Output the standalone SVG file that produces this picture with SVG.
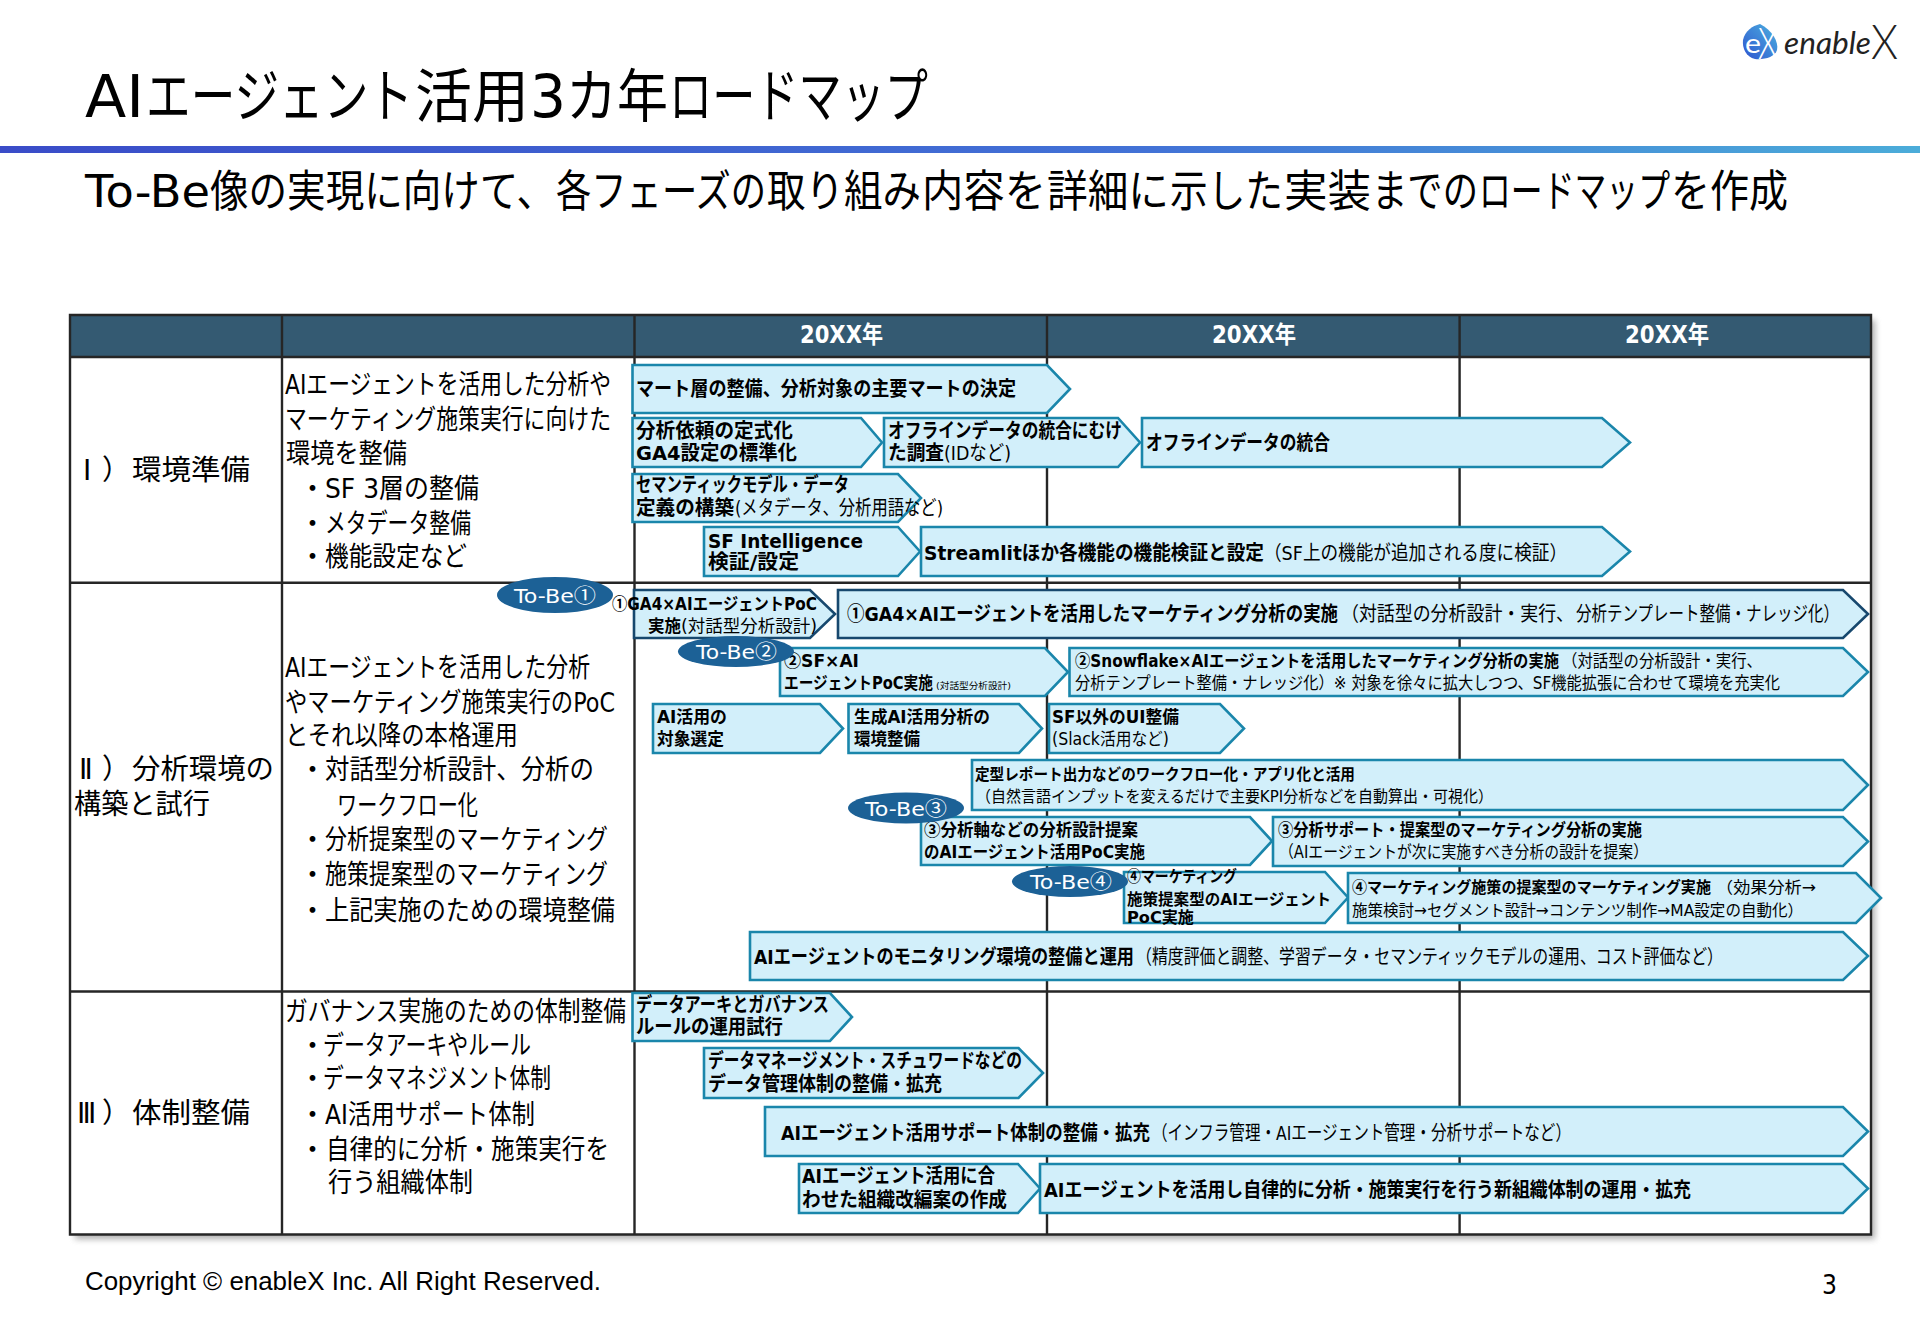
<svg xmlns="http://www.w3.org/2000/svg" width="1920" height="1329" viewBox="0 0 1920 1329">
<style>
text{font-family:"DejaVu Sans","Noto Sans CJK JP",sans-serif;fill:#000}
.b{font-weight:700}
.c{font-family:"Noto Sans CJK JP",sans-serif}
.s15{font-size:15px}.s16{font-size:16px}.s17{font-size:17px}.s18{font-size:18px}.s20{font-size:20px}.s27{font-size:27px}.s28{font-size:28px}
.ar{fill:#d2effa;stroke:#1a86ab;stroke-width:2.6;stroke-linejoin:miter}
.dk{fill:#d2effa;stroke:#17486e;stroke-width:2.6}
.ov{fill:#1c6196}
.tb{fill:#fff;font-size:20px}
.hd{fill:#fff;font-size:24px;font-weight:700}
.ln{stroke:#262626;stroke-width:2.4;fill:none}
.t1{font-size:58px}.t2{font-size:44px}
</style>
<defs>
<linearGradient id="bar" x1="0" x2="1" y1="0" y2="0"><stop offset="0" stop-color="#3a4cc8"/><stop offset=".6" stop-color="#4272d6"/><stop offset="1" stop-color="#4bacd9"/></linearGradient>
<linearGradient id="logo" x1="0" x2="1" y1="1" y2="0"><stop offset="0" stop-color="#2f55cf"/><stop offset="1" stop-color="#4bb2e0"/></linearGradient>
<filter id="sh" x="-3%" y="-3%" width="106%" height="106%"><feGaussianBlur stdDeviation="3"/></filter>
</defs>
<rect width="1920" height="1329" fill="#fff"/>

<g id="title">
<text class="t1" x="85" y="117" textLength="59" lengthAdjust="spacingAndGlyphs">AI</text>
<text class="t1" x="146" y="117" textLength="267" lengthAdjust="spacingAndGlyphs">エージェント</text>
<text class="t1" x="415" y="117" textLength="114" lengthAdjust="spacingAndGlyphs">活用</text>
<text class="t1" x="530" y="117" textLength="36" lengthAdjust="spacingAndGlyphs">3</text>
<text class="t1" x="566" y="117" textLength="102" lengthAdjust="spacingAndGlyphs">カ年</text>
<text class="t1" x="669" y="117" textLength="259" lengthAdjust="spacingAndGlyphs">ロードマップ</text>
<rect x="0" y="146" width="1920" height="7" fill="url(#bar)"/>
<text class="t2" x="85" y="207" textLength="125" lengthAdjust="spacingAndGlyphs">To-Be</text>
<text class="t2" x="210" y="207" textLength="345" lengthAdjust="spacingAndGlyphs">像の実現に向けて、</text>
<text class="t2" x="556" y="207" textLength="210" lengthAdjust="spacingAndGlyphs">各フェーズの</text>
<text class="t2" x="767" y="207" textLength="154" lengthAdjust="spacingAndGlyphs">取り組み</text>
<text class="t2" x="922" y="207" textLength="124" lengthAdjust="spacingAndGlyphs">内容を</text>
<text class="t2" x="1047" y="207" textLength="122" lengthAdjust="spacingAndGlyphs">詳細に</text>
<text class="t2" x="1170" y="207" textLength="113" lengthAdjust="spacingAndGlyphs">示した</text>
<text class="t2" x="1284" y="207" textLength="87" lengthAdjust="spacingAndGlyphs">実装</text>
<text class="t2" x="1372" y="207" textLength="106" lengthAdjust="spacingAndGlyphs">までの</text>
<text class="t2" x="1479" y="207" textLength="191" lengthAdjust="spacingAndGlyphs">ロードマップ</text>
<text class="t2" x="1671" y="207" textLength="117" lengthAdjust="spacingAndGlyphs">を作成</text>
</g>

<g id="logo-mark">
<path d="M1760 24C1772 30 1779 42 1777 50C1775 57 1764 60 1755 59C1746 57 1742 48 1743 40C1745 31 1752 26 1760 24Z" fill="url(#logo)"/>
<text x="1745" y="53" font-size="27" style="font-family:'Lato',sans-serif;fill:#fff" textLength="16" lengthAdjust="spacingAndGlyphs">e</text>
<text x="1758" y="59" font-size="44" style="font-family:'Lato',sans-serif;fill:#fff;font-weight:300" textLength="20" lengthAdjust="spacingAndGlyphs">X</text>
<text x="1784" y="54" font-size="31" style="font-family:'Lato',sans-serif;fill:#222;font-style:italic" textLength="87" lengthAdjust="spacingAndGlyphs">enable</text>
<text x="1871" y="59" font-size="48" style="font-family:'Lato',sans-serif;fill:#222;font-weight:300" textLength="27" lengthAdjust="spacingAndGlyphs">X</text>
</g>

<g id="table">
<rect x="75" y="320" width="1800" height="919" fill="#777" opacity=".6" filter="url(#sh)"/>
<rect x="70" y="315" width="1801" height="919.5" fill="#fff"/>
<rect x="70" y="315" width="1801" height="42" fill="#345a72"/>
<path class="ln" d="M70 315H1871V1234.5H70ZM70 357H1871M70 582.7H1871M70 991.5H1871M282 315V1234.5M634.5 315V1234.5M1047 315V1234.5M1459.6 315V1234.5"/>
<text class="hd" x="800" y="343" textLength="83" lengthAdjust="spacingAndGlyphs">20XX年</text>
<text class="hd" x="1212" y="343" textLength="84" lengthAdjust="spacingAndGlyphs">20XX年</text>
<text class="hd" x="1625" y="343" textLength="84" lengthAdjust="spacingAndGlyphs">20XX年</text>
</g>

<g id="row1-labels">
<text class="s28" x="83" y="480">Ⅰ</text><text class="s28" x="102" y="480">）</text>
<text class="s28" x="132" y="480" textLength="118" lengthAdjust="spacingAndGlyphs">環境準備</text>
<text class="s27" x="285" y="394" textLength="326" lengthAdjust="spacingAndGlyphs">AIエージェントを活用した分析や</text>
<text class="s27" x="285" y="429" textLength="326" lengthAdjust="spacingAndGlyphs">マーケティング施策実行に向けた</text>
<text class="s27" x="286" y="463" textLength="121" lengthAdjust="spacingAndGlyphs">環境を整備</text>
<text class="s27" x="299" y="498">・</text><text class="s27" x="325" y="498" textLength="154" lengthAdjust="spacingAndGlyphs">SF 3層の整備</text>
<text class="s27" x="299" y="533">・</text><text class="s27" x="325" y="533" textLength="146" lengthAdjust="spacingAndGlyphs">メタデータ整備</text>
<text class="s27" x="299" y="566">・</text><text class="s27" x="325" y="566" textLength="142" lengthAdjust="spacingAndGlyphs">機能設定など</text>
</g>

<g id="row2-labels">
<text class="s28" x="79" y="779">Ⅱ</text><text class="s28" x="102" y="779">）</text>
<text class="s28" x="132" y="779" textLength="142" lengthAdjust="spacingAndGlyphs">分析環境の</text>
<text class="s28" x="74" y="814" textLength="136" lengthAdjust="spacingAndGlyphs">構築と試行</text>
<text class="s27" x="285" y="677" textLength="305" lengthAdjust="spacingAndGlyphs">AIエージェントを活用した分析</text>
<text class="s27" x="285" y="712" textLength="330" lengthAdjust="spacingAndGlyphs">やマーケティング施策実行のPoC</text>
<text class="s27" x="285" y="745" textLength="233" lengthAdjust="spacingAndGlyphs">とそれ以降の本格運用</text>
<text class="s27" x="299" y="779">・</text><text class="s27" x="325" y="779" textLength="269" lengthAdjust="spacingAndGlyphs">対話型分析設計、分析の</text>
<text class="s27" x="337" y="815" textLength="141" lengthAdjust="spacingAndGlyphs">ワークフロー化</text>
<text class="s27" x="299" y="849">・</text><text class="s27" x="325" y="849" textLength="283" lengthAdjust="spacingAndGlyphs">分析提案型のマーケティング</text>
<text class="s27" x="299" y="884">・</text><text class="s27" x="325" y="884" textLength="283" lengthAdjust="spacingAndGlyphs">施策提案型のマーケティング</text>
<text class="s27" x="299" y="920">・</text><text class="s27" x="325" y="920" textLength="290" lengthAdjust="spacingAndGlyphs">上記実施のための環境整備</text>
</g>

<g id="row3-labels">
<text class="s28" x="77" y="1123">Ⅲ</text><text class="s28" x="102" y="1123">）</text>
<text class="s28" x="132" y="1123" textLength="118" lengthAdjust="spacingAndGlyphs">体制整備</text>
<text class="s27" x="285" y="1021" textLength="341" lengthAdjust="spacingAndGlyphs">ガバナンス実施のための体制整備</text>
<text class="s27" x="299" y="1055">・</text><text class="s27" x="323" y="1055" textLength="208" lengthAdjust="spacingAndGlyphs">データアーキやルール</text>
<text class="s27" x="299" y="1088">・</text><text class="s27" x="323" y="1088" textLength="228" lengthAdjust="spacingAndGlyphs">データマネジメント体制</text>
<text class="s27" x="299" y="1124">・</text><text class="s27" x="325" y="1124" textLength="210" lengthAdjust="spacingAndGlyphs">AI活用サポート体制</text>
<text class="s27" x="299" y="1159">・</text><text class="s27" x="326" y="1159" textLength="283" lengthAdjust="spacingAndGlyphs">自律的に分析・施策実行を</text>
<text class="s27" x="328" y="1192" textLength="145" lengthAdjust="spacingAndGlyphs">行う組織体制</text>
</g>

<g id="a1"><polygon class="ar" points="632.5,365 1047,365 1070,389 1047,413 632.5,413"/>
<text class="s20 b" x="636" y="396" textLength="380" lengthAdjust="spacingAndGlyphs">マート層の整備、分析対象の主要マートの決定</text></g>
<g id="a2"><polygon class="ar" points="632.5,418 861,418 882,442.5 861,467 632.5,467"/>
<text class="s20 b" x="636" y="438" textLength="157" lengthAdjust="spacingAndGlyphs">分析依頼の定式化</text>
<text class="s20 b" x="636" y="460" textLength="161" lengthAdjust="spacingAndGlyphs">GA4設定の標準化</text></g>
<g id="a3"><polygon class="ar" points="884,418 1118,418 1140,442.5 1118,467 884,467"/>
<text class="s20 b" x="888" y="438" textLength="234" lengthAdjust="spacingAndGlyphs">オフラインデータの統合にむけ</text>
<text class="s20 b" x="888" y="460" textLength="56" lengthAdjust="spacingAndGlyphs">た調査</text>
<text class="s20" x="944" y="460" textLength="67" lengthAdjust="spacingAndGlyphs">(IDなど)</text></g>
<g id="a4"><polygon class="ar" points="1142,418 1602,418 1630,442.5 1602,467 1142,467"/>
<text class="s20 b" x="1146" y="450" textLength="184" lengthAdjust="spacingAndGlyphs">オフラインデータの統合</text></g>
<g id="a5"><polygon class="ar" points="632.5,474 898,474 921,498 898,522 632.5,522"/>
<text class="s20 b" x="636" y="492" textLength="213" lengthAdjust="spacingAndGlyphs">セマンティックモデル・データ</text>
<text class="s20 b" x="636" y="515" textLength="98" lengthAdjust="spacingAndGlyphs">定義の構築</text>
<text class="s20" x="735" y="515" textLength="208" lengthAdjust="spacingAndGlyphs">(メタデータ、分析用語など)</text></g>
<g id="a6"><polygon class="ar" points="704,527 898,527 920,551.5 898,576 704,576"/>
<text class="s20 b" x="708" y="548" textLength="155" lengthAdjust="spacingAndGlyphs">SF Intelligence</text>
<text class="s20 b" x="708" y="569" textLength="91" lengthAdjust="spacingAndGlyphs">検証/設定</text></g>
<g id="a7"><polygon class="ar" points="921,527 1602,527 1630,551.5 1602,576 921,576"/>
<text class="s20 b" x="924" y="560" textLength="340" lengthAdjust="spacingAndGlyphs">Streamlitほか各機能の機能検証と設定</text>
<text class="s20" x="1264" y="560" textLength="303" lengthAdjust="spacingAndGlyphs">（SF上の機能が追加される度に検証）</text></g>

<g id="a8"><polygon class="dk" points="634,590 810,590 835,614 810,638 634,638"/>
<text class="s17 b" x="612" y="610" textLength="205" lengthAdjust="spacingAndGlyphs"><tspan class="c">①</tspan>GA4×AIエージェントPoC</text>
<text class="s17 b" x="648" y="632" textLength="33" lengthAdjust="spacingAndGlyphs">実施</text>
<text class="s17" x="681" y="632" textLength="136" lengthAdjust="spacingAndGlyphs">(対話型分析設計)</text></g>
<g id="a9"><polygon class="dk" points="838,590 1843,590 1868,614 1843,638 838,638"/>
<text class="s20 b" x="847" y="621" textLength="491" lengthAdjust="spacingAndGlyphs"><tspan class="c">①</tspan>GA4×AIエージェントを活用したマーケティング分析の実施</text>
<text class="s20" x="1341" y="621" textLength="233" lengthAdjust="spacingAndGlyphs">（対話型の分析設計・実行、</text>
<text class="s20" x="1576" y="621" textLength="263" lengthAdjust="spacingAndGlyphs">分析テンプレート整備・ナレッジ化）</text></g>
<g id="a10"><polygon class="ar" points="780,648 1045,648 1068,672 1045,696 780,696"/>
<text class="s17 b" x="784" y="667" textLength="75" lengthAdjust="spacingAndGlyphs"><tspan class="c">②</tspan>SF×AI</text>
<text class="s17 b" x="784" y="689" textLength="149" lengthAdjust="spacingAndGlyphs">エージェントPoC実施</text>
<text font-size="9" x="936" y="689" textLength="75" lengthAdjust="spacingAndGlyphs">(対話型分析設計)</text></g>
<g id="a11"><polygon class="ar" points="1069.5,648 1843,648 1868,672 1843,696 1069.5,696"/>
<text class="s17 b" x="1075" y="667" textLength="484" lengthAdjust="spacingAndGlyphs"><tspan class="c">②</tspan>Snowflake×AIエージェントを活用したマーケティング分析の実施</text>
<text class="s17" x="1562" y="667" textLength="200" lengthAdjust="spacingAndGlyphs">（対話型の分析設計・実行、</text>
<text class="s17" x="1075" y="689" textLength="705" lengthAdjust="spacingAndGlyphs">分析テンプレート整備・ナレッジ化）※ 対象を徐々に拡大しつつ、SF機能拡張に合わせて環境を充実化</text></g>
<g id="a12"><polygon class="ar" points="653,704 820,704 843,728.5 820,753 653,753"/>
<text class="s17 b" x="657" y="723" textLength="70" lengthAdjust="spacingAndGlyphs">AI活用の</text>
<text class="s17 b" x="657" y="745" textLength="67" lengthAdjust="spacingAndGlyphs">対象選定</text></g>
<g id="a13"><polygon class="ar" points="848.5,704 1019,704 1042,728.5 1019,753 848.5,753"/>
<text class="s17 b" x="854" y="723" textLength="136" lengthAdjust="spacingAndGlyphs">生成AI活用分析の</text>
<text class="s17 b" x="854" y="745" textLength="66" lengthAdjust="spacingAndGlyphs">環境整備</text></g>
<g id="a14"><polygon class="ar" points="1049,704 1220,704 1244,728.5 1220,753 1049,753"/>
<text class="s17 b" x="1052" y="723" textLength="127" lengthAdjust="spacingAndGlyphs">SF以外のUI整備</text>
<text class="s17" x="1052" y="745" textLength="117" lengthAdjust="spacingAndGlyphs">(Slack活用など)</text></g>
<g id="a15"><polygon class="ar" points="972,760 1843,760 1868,785 1843,810 972,810"/>
<text class="s16 b" x="975" y="780" textLength="380" lengthAdjust="spacingAndGlyphs">定型レポート出力などのワークフロー化・アプリ化と活用</text>
<text class="s16" x="976" y="802" textLength="517" lengthAdjust="spacingAndGlyphs">（自然言語インプットを変えるだけで主要KPI分析などを自動算出・可視化）</text></g>
<g id="a16"><polygon class="ar" points="921,817 1250,817 1272,841 1250,865 921,865"/>
<text class="s17 b" x="924" y="836" textLength="214" lengthAdjust="spacingAndGlyphs"><tspan class="c">③</tspan>分析軸などの分析設計提案</text>
<text class="s17 b" x="924" y="858" textLength="221" lengthAdjust="spacingAndGlyphs">のAIエージェント活用PoC実施</text></g>
<g id="a17"><polygon class="ar" points="1273,817 1843,817 1868,841.5 1843,866 1273,866"/>
<text class="s17 b" x="1278" y="836" textLength="364" lengthAdjust="spacingAndGlyphs"><tspan class="c">③</tspan>分析サポート・提案型のマーケティング分析の実施</text>
<text class="s17" x="1279" y="858" textLength="369" lengthAdjust="spacingAndGlyphs">（AIエージェントが次に実施すべき分析の設計を提案）</text></g>
<g id="a18"><polygon class="ar" points="1124,872 1325,872 1348,897.5 1325,923 1124,923"/>
<text class="s16 b" x="1127" y="882" textLength="110" lengthAdjust="spacingAndGlyphs"><tspan class="c">④</tspan>マーケティング</text>
<text class="s16 b" x="1127" y="905" textLength="204" lengthAdjust="spacingAndGlyphs">施策提案型のAIエージェント</text>
<text class="s16 b" x="1127" y="923" textLength="67" lengthAdjust="spacingAndGlyphs">PoC実施</text></g>
<g id="a19"><polygon class="ar" points="1348,873 1856,873 1881,898 1856,923 1348,923"/>
<text class="s16 b" x="1352" y="893" textLength="359" lengthAdjust="spacingAndGlyphs"><tspan class="c">④</tspan>マーケティング施策の提案型のマーケティング実施</text>
<text class="s16" x="1716" y="893" textLength="100" lengthAdjust="spacingAndGlyphs">（効果分析→</text>
<text class="s16" x="1352" y="916" textLength="451" lengthAdjust="spacingAndGlyphs">施策検討→セグメント設計→コンテンツ制作→MA設定の自動化）</text></g>
<g id="a20"><polygon class="ar" points="750,932 1843,932 1868,956 1843,980 750,980"/>
<text class="s20 b" x="754" y="964" textLength="380" lengthAdjust="spacingAndGlyphs">AIエージェントのモニタリング環境の整備と運用</text>
<text class="s20" x="1136" y="964" textLength="587" lengthAdjust="spacingAndGlyphs">（精度評価と調整、学習データ・セマンティックモデルの運用、コスト評価など）</text></g>

<g id="a21"><polygon class="ar" points="632.5,993 830,993 852,1017 830,1041 632.5,1041"/>
<text class="s20 b" x="636" y="1012" textLength="193" lengthAdjust="spacingAndGlyphs">データアーキとガバナンス</text>
<text class="s20 b" x="636" y="1034" textLength="147" lengthAdjust="spacingAndGlyphs">ルールの運用試行</text></g>
<g id="a22"><polygon class="ar" points="704,1048 1018.5,1048 1043,1073 1018.5,1098 704,1098"/>
<text class="s20 b" x="708" y="1068" textLength="314" lengthAdjust="spacingAndGlyphs">データマネージメント・スチュワードなどの</text>
<text class="s20 b" x="708" y="1091" textLength="234" lengthAdjust="spacingAndGlyphs">データ管理体制の整備・拡充</text></g>
<g id="a23"><polygon class="ar" points="765,1107 1843,1107 1868,1131.5 1843,1156 765,1156"/>
<text class="s20 b" x="781" y="1140" textLength="369" lengthAdjust="spacingAndGlyphs">AIエージェント活用サポート体制の整備・拡充</text>
<text class="s20" x="1152" y="1140" textLength="419" lengthAdjust="spacingAndGlyphs">（インフラ管理・AIエージェント管理・分析サポートなど）</text></g>
<g id="a24"><polygon class="ar" points="799,1164 1018,1164 1040,1188.5 1018,1213 799,1213"/>
<text class="s20 b" x="802" y="1183" textLength="193" lengthAdjust="spacingAndGlyphs">AIエージェント活用に合</text>
<text class="s20 b" x="802" y="1207" textLength="205" lengthAdjust="spacingAndGlyphs">わせた組織改編案の作成</text></g>
<g id="a25"><polygon class="ar" points="1040,1164 1843,1164 1868,1188.5 1843,1213 1040,1213"/>
<text class="s20 b" x="1044" y="1197" textLength="647" lengthAdjust="spacingAndGlyphs">AIエージェントを活用し自律的に分析・施策実行を行う新組織体制の運用・拡充</text></g>

<g id="tobe1"><ellipse class="ov" cx="555" cy="595" rx="58" ry="18"/><text class="tb" x="514" y="603" textLength="82" lengthAdjust="spacingAndGlyphs">To-Be<tspan class="c">①</tspan></text></g>
<g id="tobe2"><ellipse class="ov" cx="736" cy="651.5" rx="58" ry="15.5"/><text class="tb" x="696" y="659" textLength="81" lengthAdjust="spacingAndGlyphs">To-Be<tspan class="c">②</tspan></text></g>
<g id="tobe3"><ellipse class="ov" cx="906" cy="808" rx="58" ry="15.5"/><text class="tb" x="865" y="816" textLength="82" lengthAdjust="spacingAndGlyphs">To-Be<tspan class="c">③</tspan></text></g>
<g id="tobe4"><ellipse class="ov" cx="1070" cy="881.5" rx="58" ry="15.5"/><text class="tb" x="1030" y="889" textLength="82" lengthAdjust="spacingAndGlyphs">To-Be<tspan class="c">④</tspan></text></g>

<g id="footer">
<text x="85" y="1290" font-size="25" style="font-family:'Liberation Sans',sans-serif" textLength="516" lengthAdjust="spacingAndGlyphs">Copyright © enableX Inc. All Right Reserved.</text>
<text x="1822" y="1294" font-size="26" style="font-family:'DejaVu Sans',sans-serif" textLength="15" lengthAdjust="spacingAndGlyphs">3</text>
</g>
</svg>
